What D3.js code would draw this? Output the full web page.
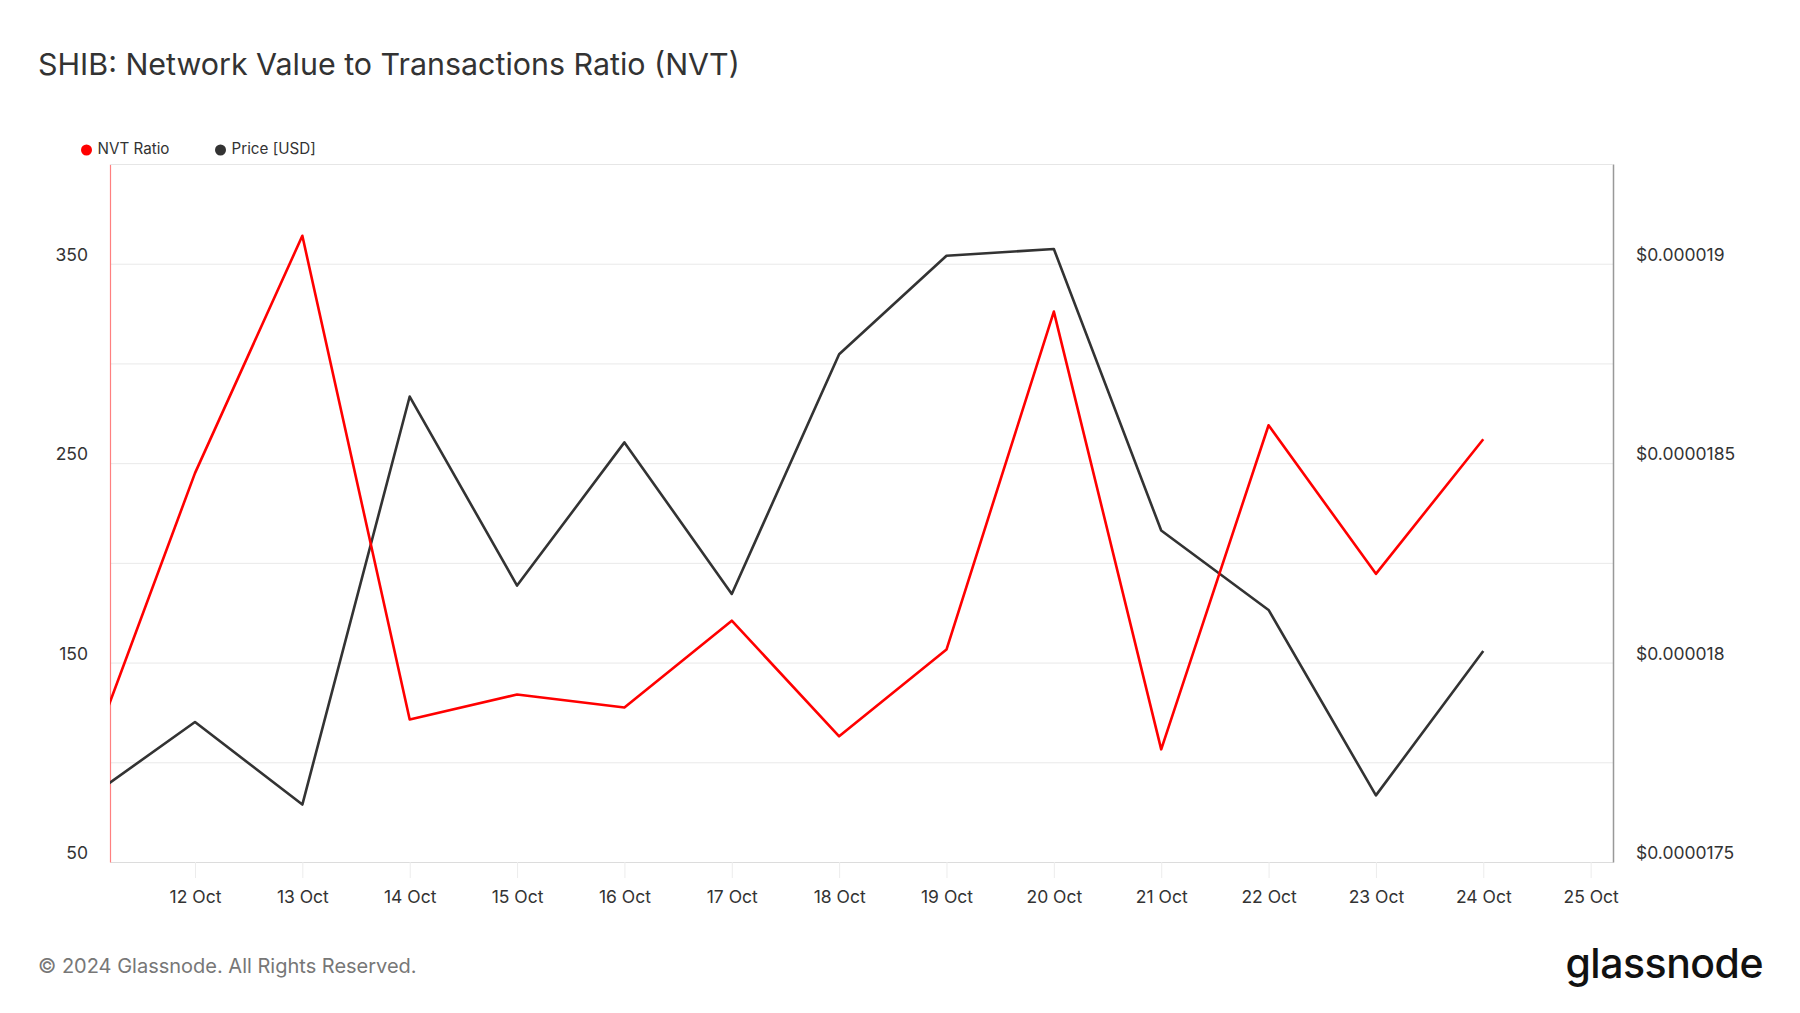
<!DOCTYPE html>
<html lang="en">
<head>
    <meta charset="UTF-8">
    <title>SHIB NVT</title>
    <script src="https://d3js.org/d3.v7.min.js"></script>
    <style>
        body { margin: 0; background: #fff; }
        text { font-family: Inter, "Noto Sans", sans-serif; }
        .axis text { fill: #333; font-size: 17.5px; }
    </style>
</head>
<body>
<script>
    // data (daily, UTC)
    const dates = ["2024-10-11", "2024-10-12", "2024-10-13", "2024-10-14", "2024-10-15", "2024-10-16", "2024-10-17",
        "2024-10-18", "2024-10-19", "2024-10-20", "2024-10-21", "2024-10-22", "2024-10-23", "2024-10-24"]
    const nvt = [100, 245, 364, 121.5, 134, 127.5, 171, 113, 156.5, 326, 106.5, 269, 194.5, 262]
    const price = [17.659e-6, 17.851e-6, 17.644e-6, 18.667e-6, 18.193e-6, 18.552e-6, 18.172e-6,
        18.773e-6, 19.020e-6, 19.037e-6, 18.331e-6, 18.132e-6, 17.667e-6, 18.029e-6]

    const leftTicks = [50, 150, 250, 350]
    const leftGrid = [100, 150, 200, 250, 300, 350, 400]
    const rightTicks = [17.5e-6, 18e-6, 18.5e-6, 19e-6]
    const rightTickLabels = ["$0.0000175", "$0.000018", "$0.0000185", "$0.000019"]
    const xTickDates = ["2024-10-12", "2024-10-13", "2024-10-14", "2024-10-15", "2024-10-16", "2024-10-17", "2024-10-18",
        "2024-10-19", "2024-10-20", "2024-10-21", "2024-10-22", "2024-10-23", "2024-10-24", "2024-10-25"]

    const width = 1800
    const height = 1013
    const plotLeft = 110, plotRight = 1613, plotTop = 164, plotBottom = 862

    const parse = d3.utcParse("%Y-%m-%d")
    const rows = dates.map(function (d, i) {
        return {date: parse(d), nvt: nvt[i], price: price[i]}
    })

    const xScale = d3.scaleUtc()
        .domain([new Date(Date.UTC(2024, 9, 11, 5)), new Date(Date.UTC(2024, 9, 25, 5))])
        .range([plotLeft, plotRight])
    const yLeft = d3.scaleLinear().domain([50, 400]).range([plotBottom, plotTop])
    const yRight = d3.scaleLinear().domain([17.5e-6, 19.25e-6]).range([plotBottom, plotTop])

    const svg = d3.select("body").append("svg")
        .attr("width", width)
        .attr("height", height)

    // title
    svg.append("text")
        .text("SHIB: Network Value to Transactions Ratio (NVT)")
        .attr("x", 38).attr("y", 75)
        .attr("font-size", 30.4)
        .attr("fill", "#333")

    // legend
    const legend = [["NVT Ratio", "#ff0000", 86.5], ["Price [USD]", "#333333", 220.5]]
    legend.forEach(function (l) {
        svg.append("circle").attr("cx", l[2]).attr("cy", 150).attr("r", 5.5).attr("fill", l[1])
        svg.append("text").text(l[0])
            .attr("x", l[2] + 11).attr("y", 150)
            .attr("dominant-baseline", "middle")
            .attr("font-size", 15.2).attr("fill", "#333")
    })

    // grid
    svg.append("g").selectAll("line")
        .data(leftGrid)
        .enter().append("line")
        .attr("x1", plotLeft).attr("x2", plotRight)
        .attr("y1", function (d) { return yLeft(d) + 0.5 })
        .attr("y2", function (d) { return yLeft(d) + 0.5 })
        .attr("stroke", "#e9e9e9")

    // x axis
    const xAxis = d3.axisBottom(xScale)
        .tickValues(xTickDates.map(parse))
        .tickSizeInner(16)
        .tickSizeOuter(0)
        .tickPadding(9)
        .tickFormat(d3.utcFormat("%-d Oct"))
    const gx = svg.append("g").attr("class", "axis")
        .attr("transform", "translate(0," + plotBottom + ")")
        .call(xAxis)
    gx.select(".domain").attr("stroke", "#dcdcdc")
    gx.selectAll(".tick line").attr("stroke", "#ececec")
    gx.selectAll(".tick text").attr("dy", "0.9em")

    // left axis
    const gl = svg.append("g").attr("class", "axis")
        .attr("transform", "translate(" + plotLeft + ",0)")
        .call(d3.axisLeft(yLeft).tickValues(leftTicks).tickSize(0).tickPadding(22))
    gl.select(".domain").attr("stroke", "#ff8080").attr("stroke-width", 1.2)
    gl.selectAll(".tick text").attr("transform", "translate(0,-9)")

    // right axis
    const gr = svg.append("g").attr("class", "axis")
        .attr("transform", "translate(" + plotRight + ",0)")
        .call(d3.axisRight(yRight).tickValues(rightTicks).tickSize(0).tickPadding(23)
            .tickFormat(function (d, i) { return rightTickLabels[i] }))
    gr.select(".domain").attr("stroke", "#999").attr("stroke-width", 1.5)
    gr.selectAll(".tick text").attr("transform", "translate(0,-9)")

    // top border
    svg.append("line")
        .attr("x1", plotLeft).attr("x2", plotRight)
        .attr("y1", plotTop + 0.5).attr("y2", plotTop + 0.5)
        .attr("stroke", "#e6e6e6")

    svg.append("clipPath").attr("id", "clip")
        .append("rect").attr("x", plotLeft).attr("y", plotTop - 10)
        .attr("width", plotRight - plotLeft).attr("height", plotBottom - plotTop + 20)

    const lineNvt = d3.line()
        .x(function (d) { return xScale(d.date) })
        .y(function (d) { return yLeft(d.nvt) })
    const linePrice = d3.line()
        .x(function (d) { return xScale(d.date) })
        .y(function (d) { return yRight(d.price) })

    svg.append("path").datum(rows)
        .attr("clip-path", "url(#clip)")
        .attr("d", linePrice)
        .attr("fill", "none").attr("stroke", "#333").attr("stroke-width", 2.6)
        .attr("stroke-linejoin", "round")
    svg.append("path").datum(rows)
        .attr("clip-path", "url(#clip)")
        .attr("d", lineNvt)
        .attr("fill", "none").attr("stroke", "#ff0000").attr("stroke-width", 2.6)
        .attr("stroke-linejoin", "round")

    // footer
    svg.append("text")
        .text("© 2024 Glassnode. All Rights Reserved.")
        .attr("x", 38).attr("y", 968)
        .attr("dominant-baseline", "middle")
        .attr("font-size", 20).attr("fill", "#777")
    svg.append("text")
        .text("glassnode")
        .attr("x", 1763).attr("y", 978)
        .attr("text-anchor", "end")
        .attr("font-size", 41).attr("font-weight", 500)
        .attr("letter-spacing", -0.5)
        .attr("fill", "#111")
</script>
</body>
</html>
